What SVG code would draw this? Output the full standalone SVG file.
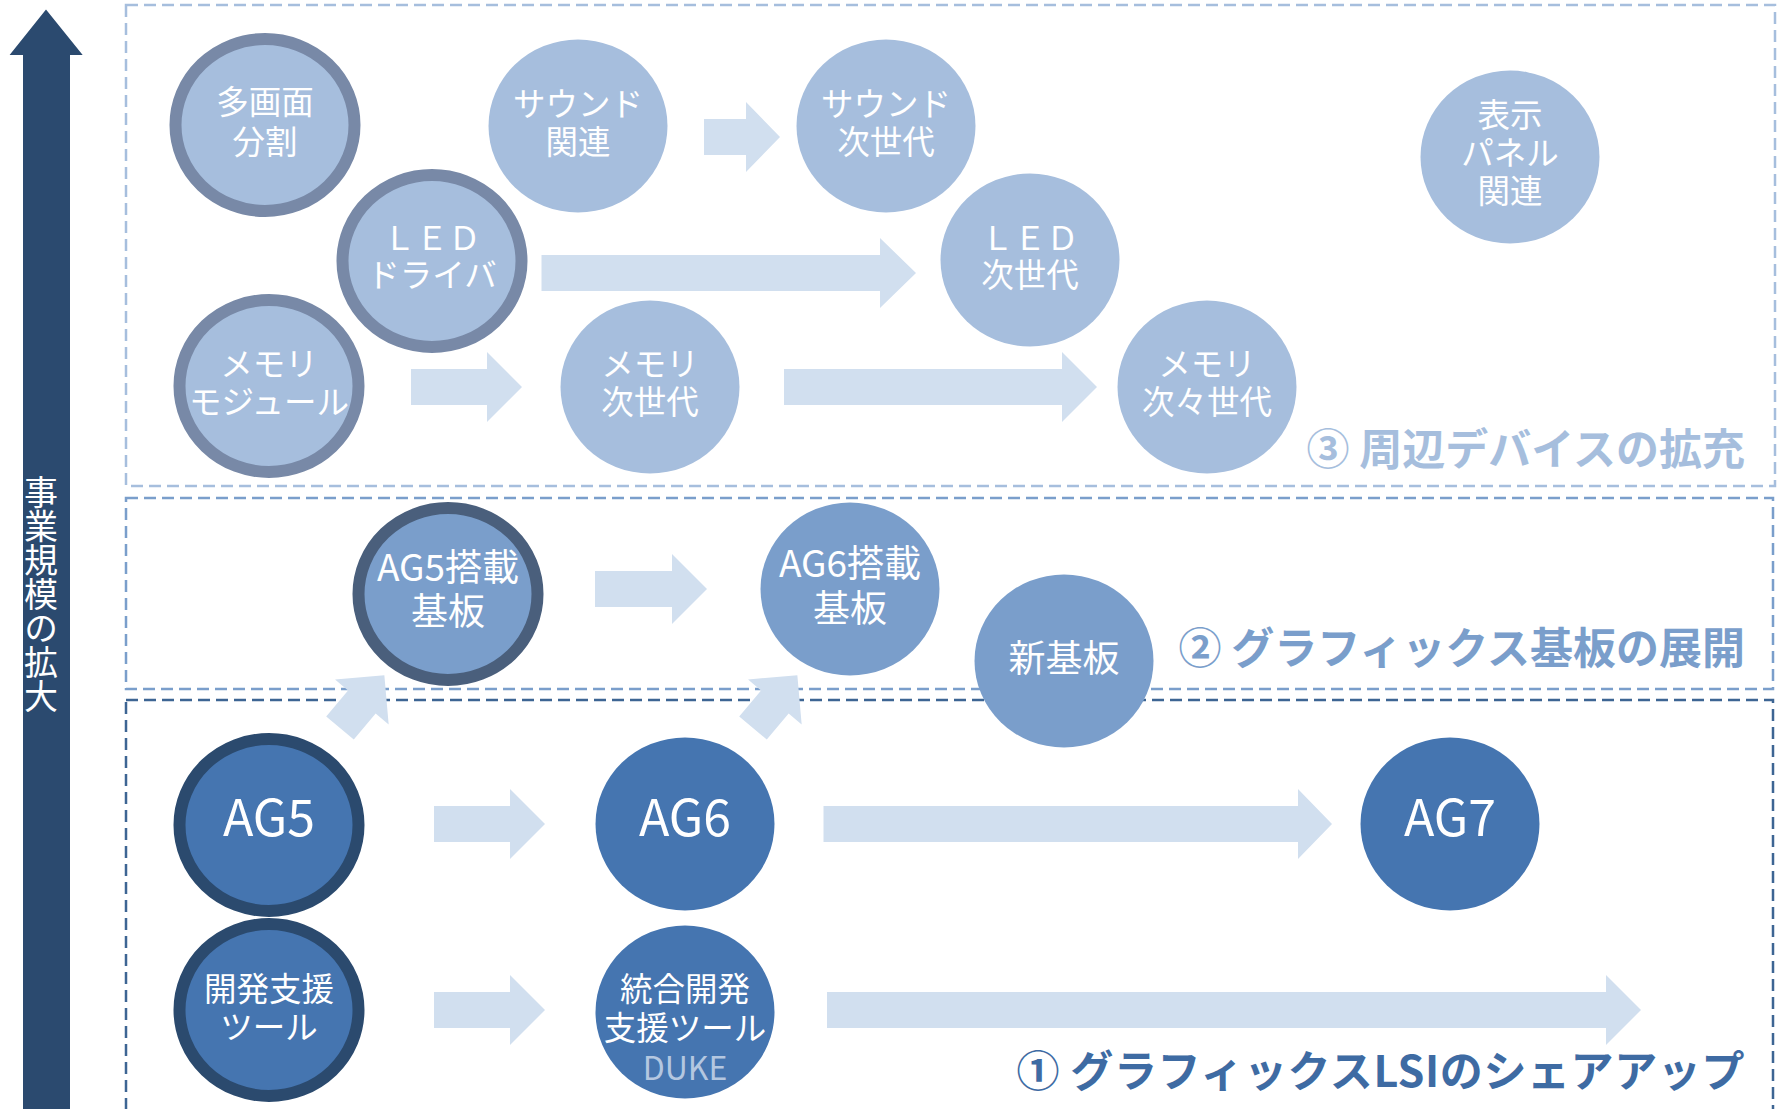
<svg xmlns="http://www.w3.org/2000/svg" width="1779" height="1109" viewBox="0 0 1779 1109">
<style>
.box{fill:none;stroke-width:2.5;stroke-dasharray:12 6}
.arr{fill:#d1dfef}
.t{fill:#fff;font-family:"Noto Sans CJK JP","Noto Sans",sans-serif;font-size:32.5px;text-anchor:middle}
.m{font-size:37px}
.big{font-size:50px}
.lbl{font-family:"Noto Sans CJK JP","Noto Sans",sans-serif;font-size:43px;font-weight:bold;text-anchor:end}
.c1{fill:#a6bedd}
.c1b{fill:#a6bedd;stroke:#7889a7;stroke-width:12}
.c2{fill:#7a9ecb}
.c2b{fill:#7a9ecb;stroke:#4a5f7c;stroke-width:12}
.c3{fill:#4575b0}
.c3b{fill:#4575b0;stroke:#2b4a6e;stroke-width:12}
</style>
<rect width="1779" height="1109" fill="#fff"/>
<g id="axis">
<polygon points="23,1109 23,55 9.6,55 46,9.5 82.7,55 70,55 70,1109" fill="#2b4a6f"/>
<text x="41" y="475" style="writing-mode:vertical-rl;fill:#fff;font-family:'Noto Sans CJK JP',sans-serif;font-size:34px">事業規模の拡大</text>
</g>
<g id="regions">
<rect class="box" x="126" y="5" width="1649" height="481" stroke="#a6bedd"/>
<rect class="box" x="126" y="498" width="1647" height="191" stroke="#7a9ecb"/>
<rect class="box" x="126" y="700" width="1647" height="430" stroke="#3d6593"/>
</g>
<g id="connectors">
<polygon class="arr" points="704,119 746,119 746,102 780,137 746,172 746,155 704,155"/>
<polygon class="arr" points="541.5,255 880,255 880,238 916,273 880,308 880,291 541.5,291"/>
<polygon class="arr" points="411,369 487,369 487,352 522,387 487,422 487,405 411,405"/>
<polygon class="arr" points="784,369 1062,369 1062,352 1097,387 1062,422 1062,405 784,405"/>
<polygon class="arr" points="595,571 672,571 672,554 707,589 672,624 672,607 595,607"/>
<polygon class="arr" transform="translate(340,728) rotate(-50)" points="0,-18 34,-18 34,-35 69,0 34,35 34,18 0,18"/>
<polygon class="arr" transform="translate(753,728) rotate(-50)" points="0,-18 34,-18 34,-35 69,0 34,35 34,18 0,18"/>
<polygon class="arr" points="434,806 510,806 510,789 545,824 510,859 510,842 434,842"/>
<polygon class="arr" points="823.5,806 1298,806 1298,789 1332,824 1298,859 1298,842 823.5,842"/>
<polygon class="arr" points="434,992 510,992 510,975 545,1010 510,1045 510,1028 434,1028"/>
<polygon class="arr" points="827,992 1606,992 1606,975 1641,1010 1606,1045 1606,1028 827,1028"/>
</g>
<g id="n-tamen">
<ellipse class="c1b" cx="265" cy="125" rx="89.5" ry="86"/>
<text class="t"><tspan x="265" y="114">多画面</tspan><tspan x="265" y="154">分割</tspan></text>
</g>
<g id="n-sound">
<ellipse class="c1" cx="578" cy="126" rx="89.5" ry="86.5"/>
<text class="t"><tspan x="578" y="116">サウンド</tspan><tspan x="578" y="154">関連</tspan></text>
</g>
<g id="n-sound-next">
<ellipse class="c1" cx="886" cy="126" rx="89.5" ry="86.5"/>
<text class="t"><tspan x="886" y="116">サウンド</tspan><tspan x="886" y="154">次世代</tspan></text>
</g>
<g id="n-panel">
<ellipse class="c1" cx="1510" cy="157" rx="89.5" ry="86.5"/>
<text class="t"><tspan x="1510" y="127">表示</tspan><tspan x="1510" y="165">パネル</tspan><tspan x="1510" y="203">関連</tspan></text>
</g>
<g id="n-led">
<ellipse class="c1b" cx="432" cy="261" rx="89.5" ry="86"/>
<text class="t"><tspan x="432" y="250">ＬＥＤ</tspan><tspan x="432" y="287">ドライバ</tspan></text>
</g>
<g id="n-led-next">
<ellipse class="c1" cx="1030" cy="260" rx="89.5" ry="86.5"/>
<text class="t"><tspan x="1030" y="250">ＬＥＤ</tspan><tspan x="1030" y="287">次世代</tspan></text>
</g>
<g id="n-memory">
<ellipse class="c1b" cx="269" cy="386" rx="89.5" ry="86"/>
<text class="t"><tspan x="269" y="376">メモリ</tspan><tspan x="269" y="414">モジュール</tspan></text>
</g>
<g id="n-memory-next">
<ellipse class="c1" cx="650" cy="387" rx="89.5" ry="86.5"/>
<text class="t"><tspan x="650" y="376">メモリ</tspan><tspan x="650" y="414">次世代</tspan></text>
</g>
<g id="n-memory-next2">
<ellipse class="c1" cx="1207" cy="387" rx="89.5" ry="86.5"/>
<text class="t"><tspan x="1207" y="376">メモリ</tspan><tspan x="1207" y="414">次々世代</tspan></text>
</g>
<g id="n-ag5board">
<ellipse class="c2b" cx="448" cy="594" rx="89.5" ry="86"/>
<text class="t m"><tspan x="448" y="581">AG5搭載</tspan><tspan x="448" y="625">基板</tspan></text>
</g>
<g id="n-ag6board">
<ellipse class="c2" cx="850" cy="589" rx="89.5" ry="86.5"/>
<text class="t m"><tspan x="850" y="577">AG6搭載</tspan><tspan x="850" y="622">基板</tspan></text>
</g>
<g id="n-newboard">
<ellipse class="c2" cx="1064" cy="661" rx="89.5" ry="86.5"/>
<text class="t m" x="1064" y="672">新基板</text>
</g>
<g id="n-ag5">
<ellipse class="c3b" cx="269" cy="825" rx="89.5" ry="86"/>
<text class="t big" x="269" y="836">AG5</text>
</g>
<g id="n-ag6">
<ellipse class="c3" cx="685" cy="824" rx="89.5" ry="86.5"/>
<text class="t big" x="685" y="836">AG6</text>
</g>
<g id="n-ag7">
<ellipse class="c3" cx="1450" cy="824" rx="89.5" ry="86.5"/>
<text class="t big" x="1450" y="836">AG7</text>
</g>
<g id="n-tool">
<ellipse class="c3b" cx="269" cy="1010" rx="89.5" ry="86"/>
<text class="t"><tspan x="269" y="1001">開発支援</tspan><tspan x="269" y="1039">ツール</tspan></text>
</g>
<g id="n-duke">
<ellipse class="c3" cx="685" cy="1012" rx="89.5" ry="86.5"/>
<text class="t"><tspan x="685" y="1001">統合開発</tspan><tspan x="685" y="1040">支援ツール</tspan></text>
<text class="t" x="685" y="1080" style="font-size:32px;fill:#b4c7e0">DUKE</text>
</g>
<g id="labels">
<text class="lbl" x="1745" y="465" fill="#a6bedd">③ 周辺デバイスの拡充</text>
<text class="lbl" x="1745" y="664" fill="#7a9ecb">② グラフィックス基板の展開</text>
<text class="lbl" x="1745" y="1087" fill="#3e6ba3" style="letter-spacing:0.6px">① グラフィックスLSIのシェアアップ</text>
</g>
</svg>
